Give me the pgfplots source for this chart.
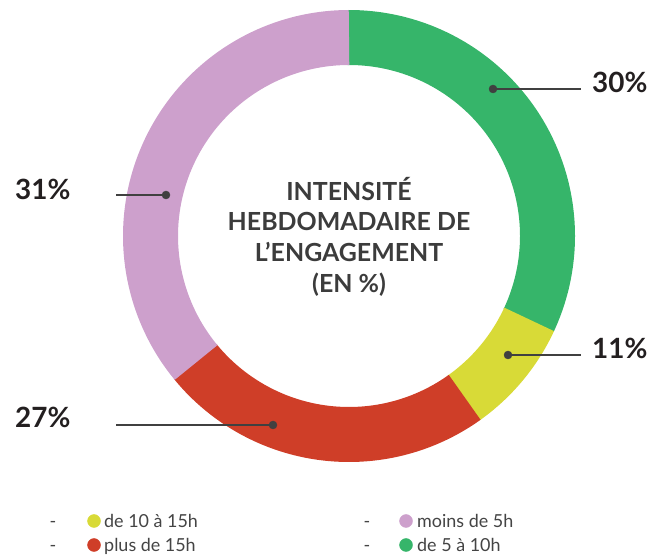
\documentclass[border=0pt]{standalone}
\usepackage{fontspec}
\setmainfont{Lato}
\usepackage{pgfplots}
\pgfplotsset{compat=1.18}
\definecolor{cgreen}{HTML}{36B56A}
\definecolor{cyellow}{HTML}{D8DA37}
\definecolor{cred}{HTML}{CF3E28}
\definecolor{cpink}{HTML}{CDA0CC}
\definecolor{ctitle}{HTML}{3C3C3C}
\definecolor{clabel}{HTML}{231F20}
\definecolor{cleader}{HTML}{404040}
\definecolor{clegend}{HTML}{444444}
\begin{document}
\begin{tikzpicture}
% slice shares as drawn (percent of the ring), clockwise from the top
\pgfmathsetmacro{\vgreen}{31.9}
\pgfmathsetmacro{\vyellow}{8.2}
\pgfmathsetmacro{\vred}{23.9}
\pgfmathsetmacro{\vpink}{36.0}
\pgfmathsetmacro{\aA}{90}
\pgfmathsetmacro{\aB}{\aA-3.6*\vgreen}
\pgfmathsetmacro{\aC}{\aB-3.6*\vyellow}
\pgfmathsetmacro{\aD}{\aC-3.6*\vred}
\pgfmathsetmacro{\aE}{\aD-3.6*\vpink}
\pgfmathsetmacro{\aAx}{\aA+0.4}
\pgfmathsetmacro{\aBx}{\aB-0.4}
\pgfmathsetmacro{\aCx}{\aC-0.4}
\pgfmathsetmacro{\aDx}{\aD-0.4}
\begin{axis}[width=659bp,height=556bp,scale only axis,
  xmin=0,xmax=659,ymin=0,ymax=556,hide axis,clip=false]
% ring
\addplot[cgreen,line width=55bp,domain=\aBx:\aAx,samples=120,variable=\t]
  ({349+198.5*cos(t)},{320+198.5*sin(t)});
\addplot[cyellow,line width=55bp,domain=\aCx:\aB,samples=40,variable=\t]
  ({349+198.5*cos(t)},{320+198.5*sin(t)});
\addplot[cred,line width=55bp,domain=\aDx:\aC,samples=100,variable=\t]
  ({349+198.5*cos(t)},{320+198.5*sin(t)});
\addplot[cpink,line width=55bp,domain=\aE:\aD,samples=120,variable=\t]
  ({349+198.5*cos(t)},{320+198.5*sin(t)});
% leader lines
\addplot[cleader,line width=2bp] coordinates {(493,467) (581,467)};
\addplot[cleader,line width=2bp] coordinates {(508,201) (581,201)};
\addplot[cleader,line width=2bp] coordinates {(116,361) (166,361)};
\addplot[cleader,line width=2bp] coordinates {(116,131) (273,131)};
\addplot[only marks,mark=*,mark size=4bp,cleader] coordinates {(493,467) (508,201) (166,361) (273,131)};
% labels
\node[anchor=base west,font=\fontsize{28}{30}\selectfont\bfseries,text=clabel,inner sep=0pt] at (axis cs:592,463) {30\%};
\node[anchor=base west,font=\fontsize{28}{30}\selectfont\bfseries,text=clabel,inner sep=0pt] at (axis cs:592,197) {11\%};
\node[anchor=base west,font=\fontsize{28}{30}\selectfont\bfseries,text=clabel,inner sep=0pt] at (axis cs:15,356) {31\%};
\node[anchor=base west,font=\fontsize{28}{30}\selectfont\bfseries,text=clabel,inner sep=0pt] at (axis cs:15,128) {27\%};
% centre title
\node[anchor=base,font=\fontsize{25}{30}\selectfont\bfseries,text=ctitle,inner sep=0pt] at (axis cs:349,355) {INTENSITÉ};
\node[anchor=base,font=\fontsize{25}{30}\selectfont\bfseries,text=ctitle,inner sep=0pt] at (axis cs:349,325) {HEBDOMADAIRE DE};
\node[anchor=base,font=\fontsize{25}{30}\selectfont\bfseries,text=ctitle,inner sep=0pt] at (axis cs:349,294) {L’ENGAGEMENT};
\node[anchor=base,font=\fontsize{25}{30}\selectfont\bfseries,text=ctitle,inner sep=0pt] at (axis cs:349,263) {(EN \%)};
% legend
\addplot[only marks,mark=*,mark size=6.5bp,cyellow] coordinates {(94,35)};
\addplot[only marks,mark=*,mark size=6.5bp,cred] coordinates {(94,11)};
\addplot[only marks,mark=*,mark size=6.5bp,cpink] coordinates {(406,35)};
\addplot[only marks,mark=*,mark size=6.5bp,cgreen] coordinates {(406,11)};
\node[anchor=base,font=\fontsize{18}{20}\selectfont,text=clegend,inner sep=0pt] at (axis cs:53,29) {-};
\node[anchor=base,font=\fontsize{18}{20}\selectfont,text=clegend,inner sep=0pt] at (axis cs:53,5) {-};
\node[anchor=base,font=\fontsize{18}{20}\selectfont,text=clegend,inner sep=0pt] at (axis cs:367,29) {-};
\node[anchor=base,font=\fontsize{18}{20}\selectfont,text=clegend,inner sep=0pt] at (axis cs:367,5) {-};
\node[anchor=base west,font=\fontsize{18}{20}\selectfont,text=clegend,inner sep=0pt] at (axis cs:104,29) {de 10 à 15h};
\node[anchor=base west,font=\fontsize{18}{20}\selectfont,text=clegend,inner sep=0pt] at (axis cs:104,5) {plus de 15h};
\node[anchor=base west,font=\fontsize{18}{20}\selectfont,text=clegend,inner sep=0pt] at (axis cs:417,29) {moins de 5h};
\node[anchor=base west,font=\fontsize{18}{20}\selectfont,text=clegend,inner sep=0pt] at (axis cs:417,5) {de 5 à 10h};
\end{axis}
\pgfresetboundingbox
\useasboundingbox (current axis.south west) rectangle (current axis.north east);
\end{tikzpicture}
\end{document}
